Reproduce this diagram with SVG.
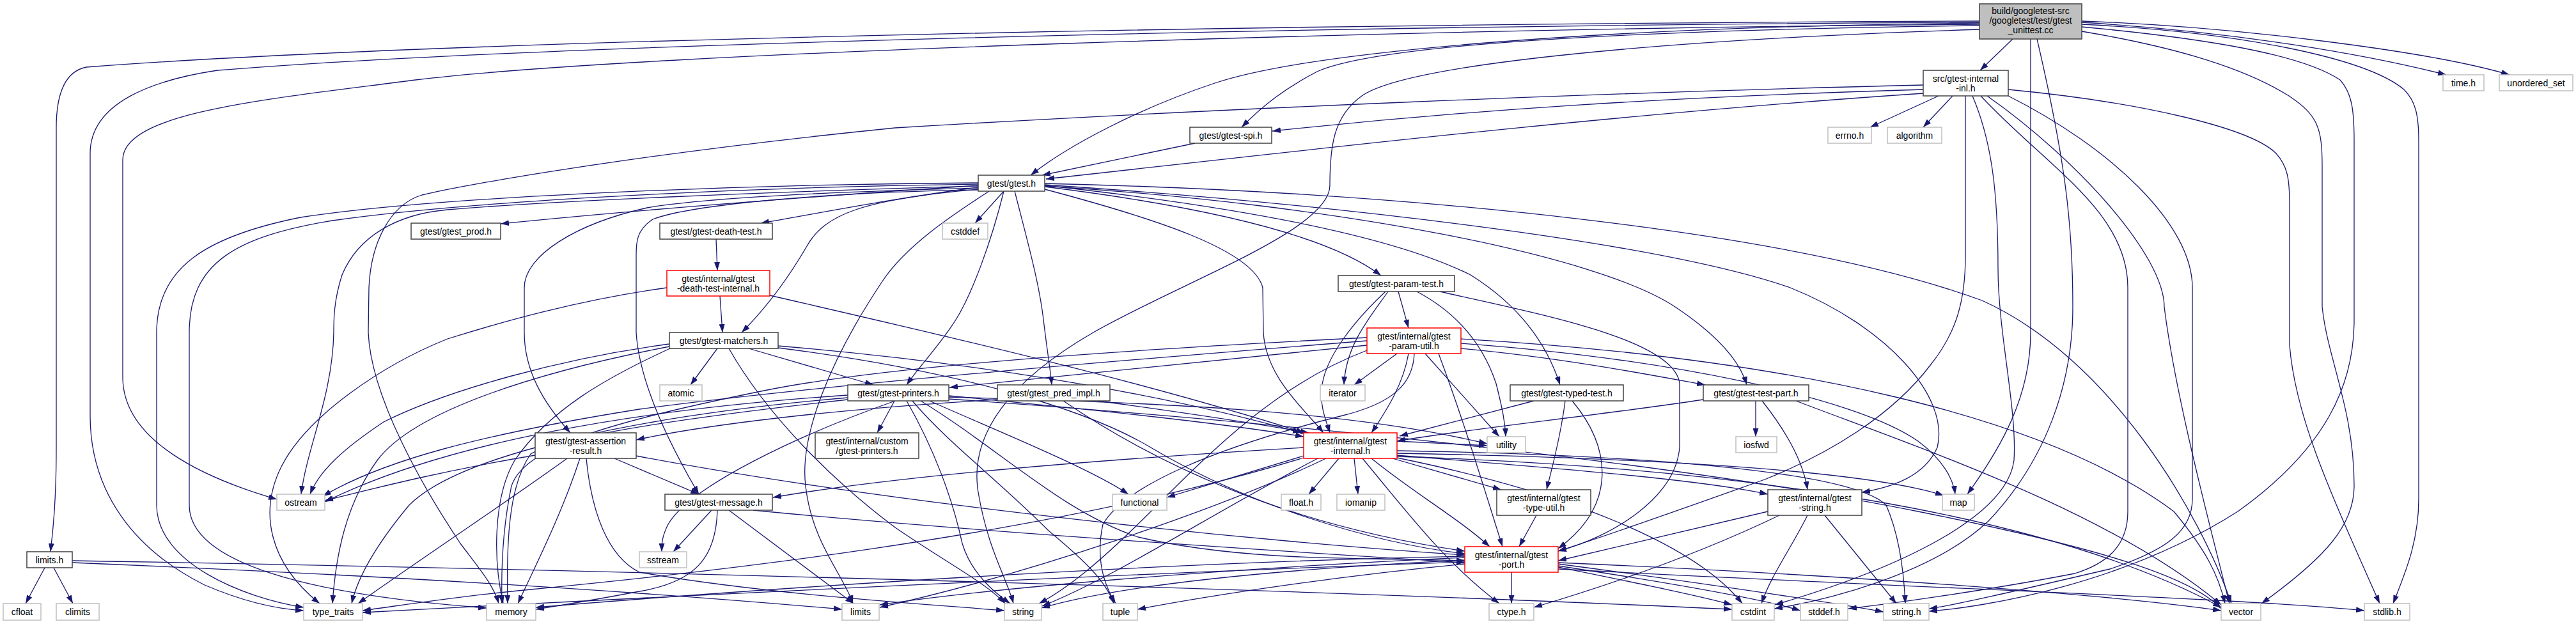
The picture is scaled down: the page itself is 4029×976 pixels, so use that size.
<svg xmlns="http://www.w3.org/2000/svg" width="4029" height="976" viewBox="0 0 4029 976">
<style>
.k rect{fill:#fff;stroke:#404040;stroke-width:1.5}
.g rect{fill:#fff;stroke:#bfbfbf;stroke-width:1.5}
.r rect{fill:#fff;stroke:#ff0000;stroke-width:1.5}
.root rect{fill:#bfbfbf;stroke:#404040;stroke-width:1.5}
text{font-family:"Liberation Sans",Arial,sans-serif;font-size:14px;text-anchor:middle;fill:#000}
.e path{fill:none;stroke:#191970;stroke-width:1.3;marker-end:url(#a)}
</style>
<defs>
<marker id="a" viewBox="0 0 13 9" refX="13" refY="4.5" markerWidth="13" markerHeight="9" markerUnits="userSpaceOnUse" orient="auto"><path d="M0,0L13,4.5L0,9z" fill="#191970"/></marker>
</defs>
<rect width="4029" height="976" fill="#fff"/>
<g id="edges" class="e">
<path d="M3096,33 C2000,37 700,62 135,105 C100,112 88,150 88,200 L88,700 C88,790 82,835 79,863"/>
<path d="M3096,35 C2000,40 800,72 340,110 C240,125 141,160 141,240 L141,650 C141,770 210,860 320,915 C390,945 440,953 475,955"/>
<path d="M3096,38 C2200,45 1000,82 650,125 C420,155 192,175 192,250 L192,590 C192,690 320,748 433,781"/>
<path d="M3096,36 C2500,42 2050,80 1900,130 C1780,170 1670,228 1612,274"/>
<path d="M3096,40 C2500,48 2150,72 2060,112 C2010,138 1975,165 1942,199"/>
<path d="M3148,61 L3097,110"/>
<path d="M3096,46 C2600,62 2200,100 2130,150 C2085,182 2080,230 2080,290 C2080,360 1850,440 1710,520 C1580,595 1515,680 1530,770 C1545,860 1575,905 1585,944"/>
<path d="M3176,61 L3176,520 C3176,620 3130,700 3077,773"/>
<path d="M3186,61 C3230,250 3242,350 3242,480 C3242,600 3200,720 3110,815 C3020,900 2850,940 2775,952"/>
<path d="M3256,49 C3380,70 3500,100 3580,150 C3625,180 3632,200 3632,260 L3632,480 C3640,560 3682,640 3682,760 C3682,820 3640,870 3537,944"/>
<path d="M3256,42 C3450,60 3600,85 3660,125 C3678,145 3682,170 3682,220 L3682,500 C3682,600 3640,700 3500,800 C3320,915 3100,950 3017,956"/>
<path d="M3256,38 C3500,50 3700,90 3760,140 C3778,158 3783,180 3783,220 L3783,780 C3783,850 3760,900 3743,944"/>
<path d="M3256,35 C3500,50 3700,85 3826,117"/>
<path d="M3256,33 C3500,42 3800,80 3925,117"/>
<path d="M3032,150 L2925,199"/>
<path d="M3054,150 L3008,199"/>
<path d="M3008,140 C2600,152 2300,172 1990,205"/>
<path d="M3008,146 C2500,180 2000,240 1636,280"/>
<path d="M3008,133 C2500,145 1900,170 1400,200 C1000,240 720,290 660,305 C610,320 580,380 577,450 L576,520 C580,620 660,760 720,850 C750,890 772,915 780,944"/>
<path d="M3074,150 L3074,400 C3074,470 3060,520 3020,570 C2960,650 2860,710 2760,750 C2620,800 2500,842 2437,862"/>
<path d="M3085,150 C3115,220 3125,300 3125,420 C3125,520 3155,640 3150,720 C3140,800 3000,880 2776,946"/>
<path d="M3098,150 C3200,260 3328,330 3328,450 L3328,800 C3328,850 3300,880 3245,897 C3100,925 2950,945 2891,952"/>
<path d="M3108,150 C3250,250 3385,400 3385,480 C3400,600 3440,760 3487,944"/>
<path d="M3141,150 C3300,230 3429,350 3429,450 L3429,780 C3429,830 3390,860 3300,890 C3150,925 3050,948 3017,952"/>
<path d="M3141,140 C3350,160 3520,200 3560,240 C3578,260 3581,280 3581,320 L3581,540 C3590,650 3640,760 3722,944"/>
<path d="M1869,224 L1630,274"/>
<path d="M1570,299 L1525,349"/>
<path d="M1530,290 C1300,305 1000,328 783,350"/>
<path d="M1530,293 C1400,310 1300,330 1190,349"/>
<path d="M1530,296 C1350,312 1290,335 1262,385 C1230,440 1195,485 1160,520"/>
<path d="M1530,294 C1300,300 1100,310 1012,325 C900,350 820,400 820,450 L820,520 C820,580 850,630 892,677"/>
<path d="M1530,297 C1300,300 1080,320 1021,343 C995,360 995,380 995,400 L995,520 C1000,600 1050,700 1093,773"/>
<path d="M1570,299 C1550,380 1520,460 1495,500 C1470,540 1440,570 1418,602"/>
<path d="M1587,299 C1605,370 1625,440 1632,500 C1638,550 1643,580 1645,602"/>
<path d="M1634,296 C1800,340 1960,390 1975,450 L1976,520 C1980,590 2040,640 2070,677"/>
<path d="M1634,292 C1900,325 2080,370 2160,431"/>
<path d="M1634,290 C2000,330 2200,380 2300,430 C2380,480 2420,540 2440,602"/>
<path d="M1634,291 C2100,320 2500,400 2620,480 C2680,520 2720,560 2732,602"/>
<path d="M1634,289 C2100,320 2600,380 2800,450 C2950,510 3050,620 3030,700 C3010,745 2960,762 2912,770"/>
<path d="M1634,287 C2200,300 2800,360 3100,470 C3300,560 3440,800 3490,944"/>
<path d="M1547,299 C1500,330 1420,380 1380,440 C1300,560 1250,680 1260,760 C1270,850 1320,900 1334,944"/>
<path d="M1530,288 C1200,292 750,312 520,345 C370,370 296,410 296,520 L296,790 C296,880 480,930 761,951"/>
<path d="M1530,286 C1200,288 700,305 470,340 C320,370 245,420 245,520 L245,790 C245,880 380,935 475,950"/>
<path d="M1530,291 C1200,300 850,315 700,328 C620,335 560,370 535,430 C522,470 522,500 522,520 C520,620 480,700 471,773"/>
<path d="M1122,545 L1080,602"/>
<path d="M1171,545 L1366,602"/>
<path d="M1217,541 C1500,565 1800,610 2035,677"/>
<path d="M1217,544 C1500,580 1700,640 1800,700 C1950,790 2150,850 2291,866"/>
<path d="M1048,545 C950,590 860,640 805,720 C770,780 772,880 787,944"/>
<path d="M1140,545 C1200,650 1300,750 1400,825 C1480,880 1540,910 1572,944"/>
<path d="M1047,538 C880,560 700,610 600,660 C540,700 500,735 485,773"/>
<path d="M1047,542 C850,580 650,640 590,720 C540,790 525,870 520,944"/>
<path d="M1126,463 L1130,520"/>
<path d="M1043,450 C900,470 780,505 700,530 C600,570 480,650 440,730 C405,800 420,880 500,944"/>
<path d="M1204,462 C1500,530 1800,600 2040,677"/>
<path d="M1120,374 L1122,423"/>
<path d="M1399,627 L1372,677"/>
<path d="M1326,618 C1000,640 700,690 508,785"/>
<path d="M1326,622 C1000,650 720,710 640,790 C590,850 560,900 550,944"/>
<path d="M1326,625 C1100,650 880,680 830,710 C795,760 792,850 794,944"/>
<path d="M1454,627 C1550,670 1700,730 1765,773"/>
<path d="M1400,627 C1250,680 1080,760 1045,820 C1035,840 1035,850 1035,863"/>
<path d="M1418,627 C1460,700 1490,780 1505,850 C1520,900 1560,930 1580,944"/>
<path d="M1427,627 C1480,690 1560,750 1640,830 C1700,880 1730,910 1742,944"/>
<path d="M1484,619 C1700,640 1900,660 2039,683"/>
<path d="M1440,627 C1560,700 1660,800 1780,840 C1950,880 2150,872 2291,877"/>
<path d="M1484,624 C2000,660 2600,720 3000,800 C3300,860 3430,905 3474,952"/>
<path d="M1484,621 C1800,630 2100,640 2326,694"/>
<path d="M1560,625 C1300,640 1100,665 995,688"/>
<path d="M1717,627 C1850,645 1950,660 2047,677"/>
<path d="M1663,627 C1800,720 2000,820 2291,862"/>
<path d="M961,717 L1093,773"/>
<path d="M907,717 C880,800 840,880 810,944"/>
<path d="M887,717 C800,780 650,880 560,944"/>
<path d="M837,712 C700,735 600,760 508,783"/>
<path d="M917,717 C925,800 950,870 1000,895 C1200,930 1450,945 1571,955"/>
<path d="M995,713 C1400,790 2000,850 2291,868"/>
<path d="M1113,798 L1053,863"/>
<path d="M1122,798 C1120,870 1090,910 1000,925 C920,940 870,948 838,953"/>
<path d="M1140,798 L1335,944"/>
<path d="M1178,798 C1500,830 2000,862 2291,880"/>
<path d="M2187,456 L2203,513"/>
<path d="M2171,456 C2140,500 2105,540 2102,602"/>
<path d="M2167,456 C2120,500 2070,560 2067,610 C2065,640 2075,660 2080,677"/>
<path d="M2216,456 C2280,490 2320,540 2340,600 C2350,640 2354,660 2355,683"/>
<path d="M2252,456 C2400,490 2620,530 2627,600 L2627,700 C2620,780 2520,840 2437,862"/>
<path d="M2185,553 L2118,602"/>
<path d="M2203,553 C2195,600 2170,640 2145,677"/>
<path d="M2229,553 L2345,683"/>
<path d="M2138,540 L1485,606"/>
<path d="M2212,553 C2210,600 2180,630 2100,650 C1900,700 1760,760 1725,820 C1712,880 1730,920 1745,944"/>
<path d="M2285,545 C2450,560 2600,590 2667,602"/>
<path d="M2250,553 C2290,660 2320,760 2350,855"/>
<path d="M2138,548 C2000,600 1900,700 1800,800 C1720,880 1670,920 1625,944"/>
<path d="M2138,528 C1800,545 1400,570 1200,610 C950,660 820,700 800,760 C785,830 784,900 785,944"/>
<path d="M2138,533 C1800,560 1300,600 1000,640 C750,680 600,720 505,776"/>
<path d="M2285,530 C2800,560 3200,650 3400,800 C3450,860 3470,900 3480,944"/>
<path d="M2285,537 C2600,560 2900,620 3000,690 C3040,720 3055,750 3058,773"/>
<path d="M2399,627 L2189,682"/>
<path d="M2448,627 C2440,690 2425,740 2419,766"/>
<path d="M2459,627 C2520,700 2530,790 2437,858"/>
<path d="M2664,625 C2500,650 2300,670 2185,690"/>
<path d="M2746,627 L2746,683"/>
<path d="M2756,627 C2790,670 2820,720 2827,766"/>
<path d="M2809,627 C3000,700 3300,800 3474,946"/>
<path d="M2039,713 L1825,778"/>
<path d="M2094,717 L2047,773"/>
<path d="M2118,717 L2124,773"/>
<path d="M2145,717 C2210,770 2280,810 2330,855"/>
<path d="M2131,717 C2200,800 2260,880 2345,944"/>
<path d="M2178,717 L2348,766"/>
<path d="M2185,712 C2400,730 2650,748 2765,773"/>
<path d="M2185,709 C2500,715 2900,730 3040,775"/>
<path d="M2185,714 C2700,730 3200,800 3474,950"/>
<path d="M2185,705 C2600,712 2900,740 2950,790 C2972,840 2978,900 2980,944"/>
<path d="M2185,716 C2450,770 2650,850 2725,944"/>
<path d="M2074,717 C1900,800 1600,900 1376,950"/>
<path d="M2061,717 C1900,800 1750,900 1630,948"/>
<path d="M2039,716 C1600,850 1000,905 800,925 C700,935 620,948 567,955"/>
<path d="M2039,700 C1700,720 1400,745 1209,778"/>
<path d="M2185,690 L2326,697"/>
<path d="M2403,806 L2376,855"/>
<path d="M2765,800 L2437,877"/>
<path d="M2854,806 L2966,944"/>
<path d="M2827,806 C2800,860 2770,900 2755,944"/>
<path d="M2783,806 C2650,870 2500,920 2399,950"/>
<path d="M2364,895 L2364,944"/>
<path d="M2437,887 C2550,910 2650,930 2709,946"/>
<path d="M2437,885 C2600,910 2750,935 2816,955"/>
<path d="M2437,882 C2650,910 2850,940 2946,957"/>
<path d="M2437,880 C2900,900 3300,930 3474,955"/>
<path d="M2437,890 C3000,920 3500,935 3698,955"/>
<path d="M2291,882 C2100,900 1900,930 1779,953"/>
<path d="M2291,876 C2000,890 1750,915 1629,951"/>
<path d="M2291,872 C1900,890 1550,920 1376,946"/>
<path d="M2291,870 C1800,880 1200,920 838,950"/>
<path d="M2291,879 C1800,895 1000,935 567,958"/>
<path d="M70,888 L40,944"/>
<path d="M84,888 L114,944"/>
<path d="M113,877 C900,890 2000,920 2709,953"/>
<path d="M113,880 C600,900 1000,925 1317,953"/>
</g>
<g id="n-root" class="root"><rect x="3096" y="6" width="160" height="55"/><text x="3176" y="22">build/googletest-src</text><text x="3176" y="37">/googletest/test/gtest</text><text x="3176" y="52">_unittest.cc</text></g>
<g id="n-inl" class="k"><rect x="3008" y="110" width="133" height="40"/><text x="3074.5" y="127.5">src/gtest-internal</text><text x="3074.5" y="142.5">-inl.h</text></g>
<g id="n-errno" class="g"><rect x="2859" y="199" width="68" height="25"/><text x="2893" y="216.5">errno.h</text></g>
<g id="n-algorithm" class="g"><rect x="2952" y="199" width="85" height="25"/><text x="2994.5" y="216.5">algorithm</text></g>
<g id="n-time" class="g"><rect x="3821" y="117" width="64" height="25"/><text x="3853" y="134.5">time.h</text></g>
<g id="n-unordered_set" class="g"><rect x="3909" y="117" width="115" height="25"/><text x="3966.5" y="134.5">unordered_set</text></g>
<g id="n-spi" class="k"><rect x="1861" y="199" width="128" height="25"/><text x="1925" y="216.5">gtest/gtest-spi.h</text></g>
<g id="n-gtest" class="k"><rect x="1530" y="274" width="104" height="25"/><text x="1582" y="291.5">gtest/gtest.h</text></g>
<g id="n-prod" class="k"><rect x="643" y="349" width="140" height="25"/><text x="713" y="366.5">gtest/gtest_prod.h</text></g>
<g id="n-death-test" class="k"><rect x="1032" y="349" width="176" height="25"/><text x="1120" y="366.5">gtest/gtest-death-test.h</text></g>
<g id="n-cstddef" class="g"><rect x="1474" y="349" width="71" height="25"/><text x="1509.5" y="366.5">cstddef</text></g>
<g id="n-death-test-internal" class="r"><rect x="1043" y="423" width="161" height="40"/><text x="1123.5" y="440.5">gtest/internal/gtest</text><text x="1123.5" y="455.5">-death-test-internal.h</text></g>
<g id="n-param-test" class="k"><rect x="2093" y="431" width="182" height="25"/><text x="2184" y="448.5">gtest/gtest-param-test.h</text></g>
<g id="n-matchers" class="k"><rect x="1047" y="520" width="170" height="25"/><text x="1132" y="537.5">gtest/gtest-matchers.h</text></g>
<g id="n-param-util" class="r"><rect x="2138" y="513" width="147" height="40"/><text x="2211.5" y="530.5">gtest/internal/gtest</text><text x="2211.5" y="545.5">-param-util.h</text></g>
<g id="n-atomic" class="g"><rect x="1032" y="602" width="66" height="25"/><text x="1065" y="619.5">atomic</text></g>
<g id="n-printers" class="k"><rect x="1326" y="602" width="158" height="25"/><text x="1405" y="619.5">gtest/gtest-printers.h</text></g>
<g id="n-pred_impl" class="k"><rect x="1560" y="602" width="176" height="25"/><text x="1648" y="619.5">gtest/gtest_pred_impl.h</text></g>
<g id="n-iterator" class="g"><rect x="2065" y="602" width="70" height="25"/><text x="2100" y="619.5">iterator</text></g>
<g id="n-typed-test" class="k"><rect x="2362" y="602" width="177" height="25"/><text x="2450.5" y="619.5">gtest/gtest-typed-test.h</text></g>
<g id="n-test-part" class="k"><rect x="2664" y="602" width="165" height="25"/><text x="2746.5" y="619.5">gtest/gtest-test-part.h</text></g>
<g id="n-assertion-result" class="k"><rect x="837" y="677" width="158" height="40"/><text x="916" y="694.5">gtest/gtest-assertion</text><text x="916" y="709.5">-result.h</text></g>
<g id="n-custom-printers" class="k"><rect x="1275" y="677" width="162" height="40"/><text x="1356" y="694.5">gtest/internal/custom</text><text x="1356" y="709.5">/gtest-printers.h</text></g>
<g id="n-internal" class="r"><rect x="2039" y="677" width="146" height="40"/><text x="2112" y="694.5">gtest/internal/gtest</text><text x="2112" y="709.5">-internal.h</text></g>
<g id="n-utility" class="g"><rect x="2326" y="683" width="60" height="25"/><text x="2356" y="700.5">utility</text></g>
<g id="n-iosfwd" class="g"><rect x="2715" y="683" width="64" height="25"/><text x="2747" y="700.5">iosfwd</text></g>
<g id="n-ostream" class="g"><rect x="433" y="773" width="75" height="25"/><text x="470.5" y="790.5">ostream</text></g>
<g id="n-message" class="k"><rect x="1040" y="773" width="168" height="25"/><text x="1124" y="790.5">gtest/gtest-message.h</text></g>
<g id="n-functional" class="g"><rect x="1740" y="773" width="85" height="25"/><text x="1782.5" y="790.5">functional</text></g>
<g id="n-float" class="g"><rect x="2004" y="773" width="62" height="25"/><text x="2035" y="790.5">float.h</text></g>
<g id="n-iomanip" class="g"><rect x="2091" y="773" width="75" height="25"/><text x="2128.5" y="790.5">iomanip</text></g>
<g id="n-type-util" class="k"><rect x="2341" y="766" width="147" height="40"/><text x="2414.5" y="783.5">gtest/internal/gtest</text><text x="2414.5" y="798.5">-type-util.h</text></g>
<g id="n-gtest-string" class="k"><rect x="2765" y="766" width="147" height="40"/><text x="2838.5" y="783.5">gtest/internal/gtest</text><text x="2838.5" y="798.5">-string.h</text></g>
<g id="n-map" class="g"><rect x="3038" y="773" width="50" height="25"/><text x="3063" y="790.5">map</text></g>
<g id="n-limits-h" class="k"><rect x="42" y="863" width="71" height="25"/><text x="77.5" y="880.5">limits.h</text></g>
<g id="n-sstream" class="g"><rect x="1000" y="863" width="74" height="25"/><text x="1037" y="880.5">sstream</text></g>
<g id="n-port" class="r"><rect x="2291" y="855" width="146" height="40"/><text x="2364" y="872.5">gtest/internal/gtest</text><text x="2364" y="887.5">-port.h</text></g>
<g id="n-cfloat" class="g"><rect x="5" y="944" width="59" height="26"/><text x="34.5" y="962">cfloat</text></g>
<g id="n-climits" class="g"><rect x="88" y="944" width="67" height="26"/><text x="121.5" y="962">climits</text></g>
<g id="n-type_traits" class="g"><rect x="475" y="944" width="92" height="26"/><text x="521" y="962">type_traits</text></g>
<g id="n-memory" class="g"><rect x="761" y="944" width="77" height="26"/><text x="799.5" y="962">memory</text></g>
<g id="n-limits" class="g"><rect x="1317" y="944" width="58" height="26"/><text x="1346" y="962">limits</text></g>
<g id="n-string" class="g"><rect x="1571" y="944" width="58" height="26"/><text x="1600" y="962">string</text></g>
<g id="n-tuple" class="g"><rect x="1725" y="944" width="54" height="26"/><text x="1752" y="962">tuple</text></g>
<g id="n-ctype" class="g"><rect x="2329" y="944" width="70" height="26"/><text x="2364" y="962">ctype.h</text></g>
<g id="n-cstdint" class="g"><rect x="2709" y="944" width="66" height="26"/><text x="2742" y="962">cstdint</text></g>
<g id="n-stddef" class="g"><rect x="2816" y="944" width="74" height="26"/><text x="2853" y="962">stddef.h</text></g>
<g id="n-string-h" class="g"><rect x="2946" y="944" width="71" height="26"/><text x="2981.5" y="962">string.h</text></g>
<g id="n-vector" class="g"><rect x="3474" y="944" width="62" height="26"/><text x="3505" y="962">vector</text></g>
<g id="n-stdlib" class="g"><rect x="3698" y="944" width="71" height="26"/><text x="3733.5" y="962">stdlib.h</text></g>
</svg>
